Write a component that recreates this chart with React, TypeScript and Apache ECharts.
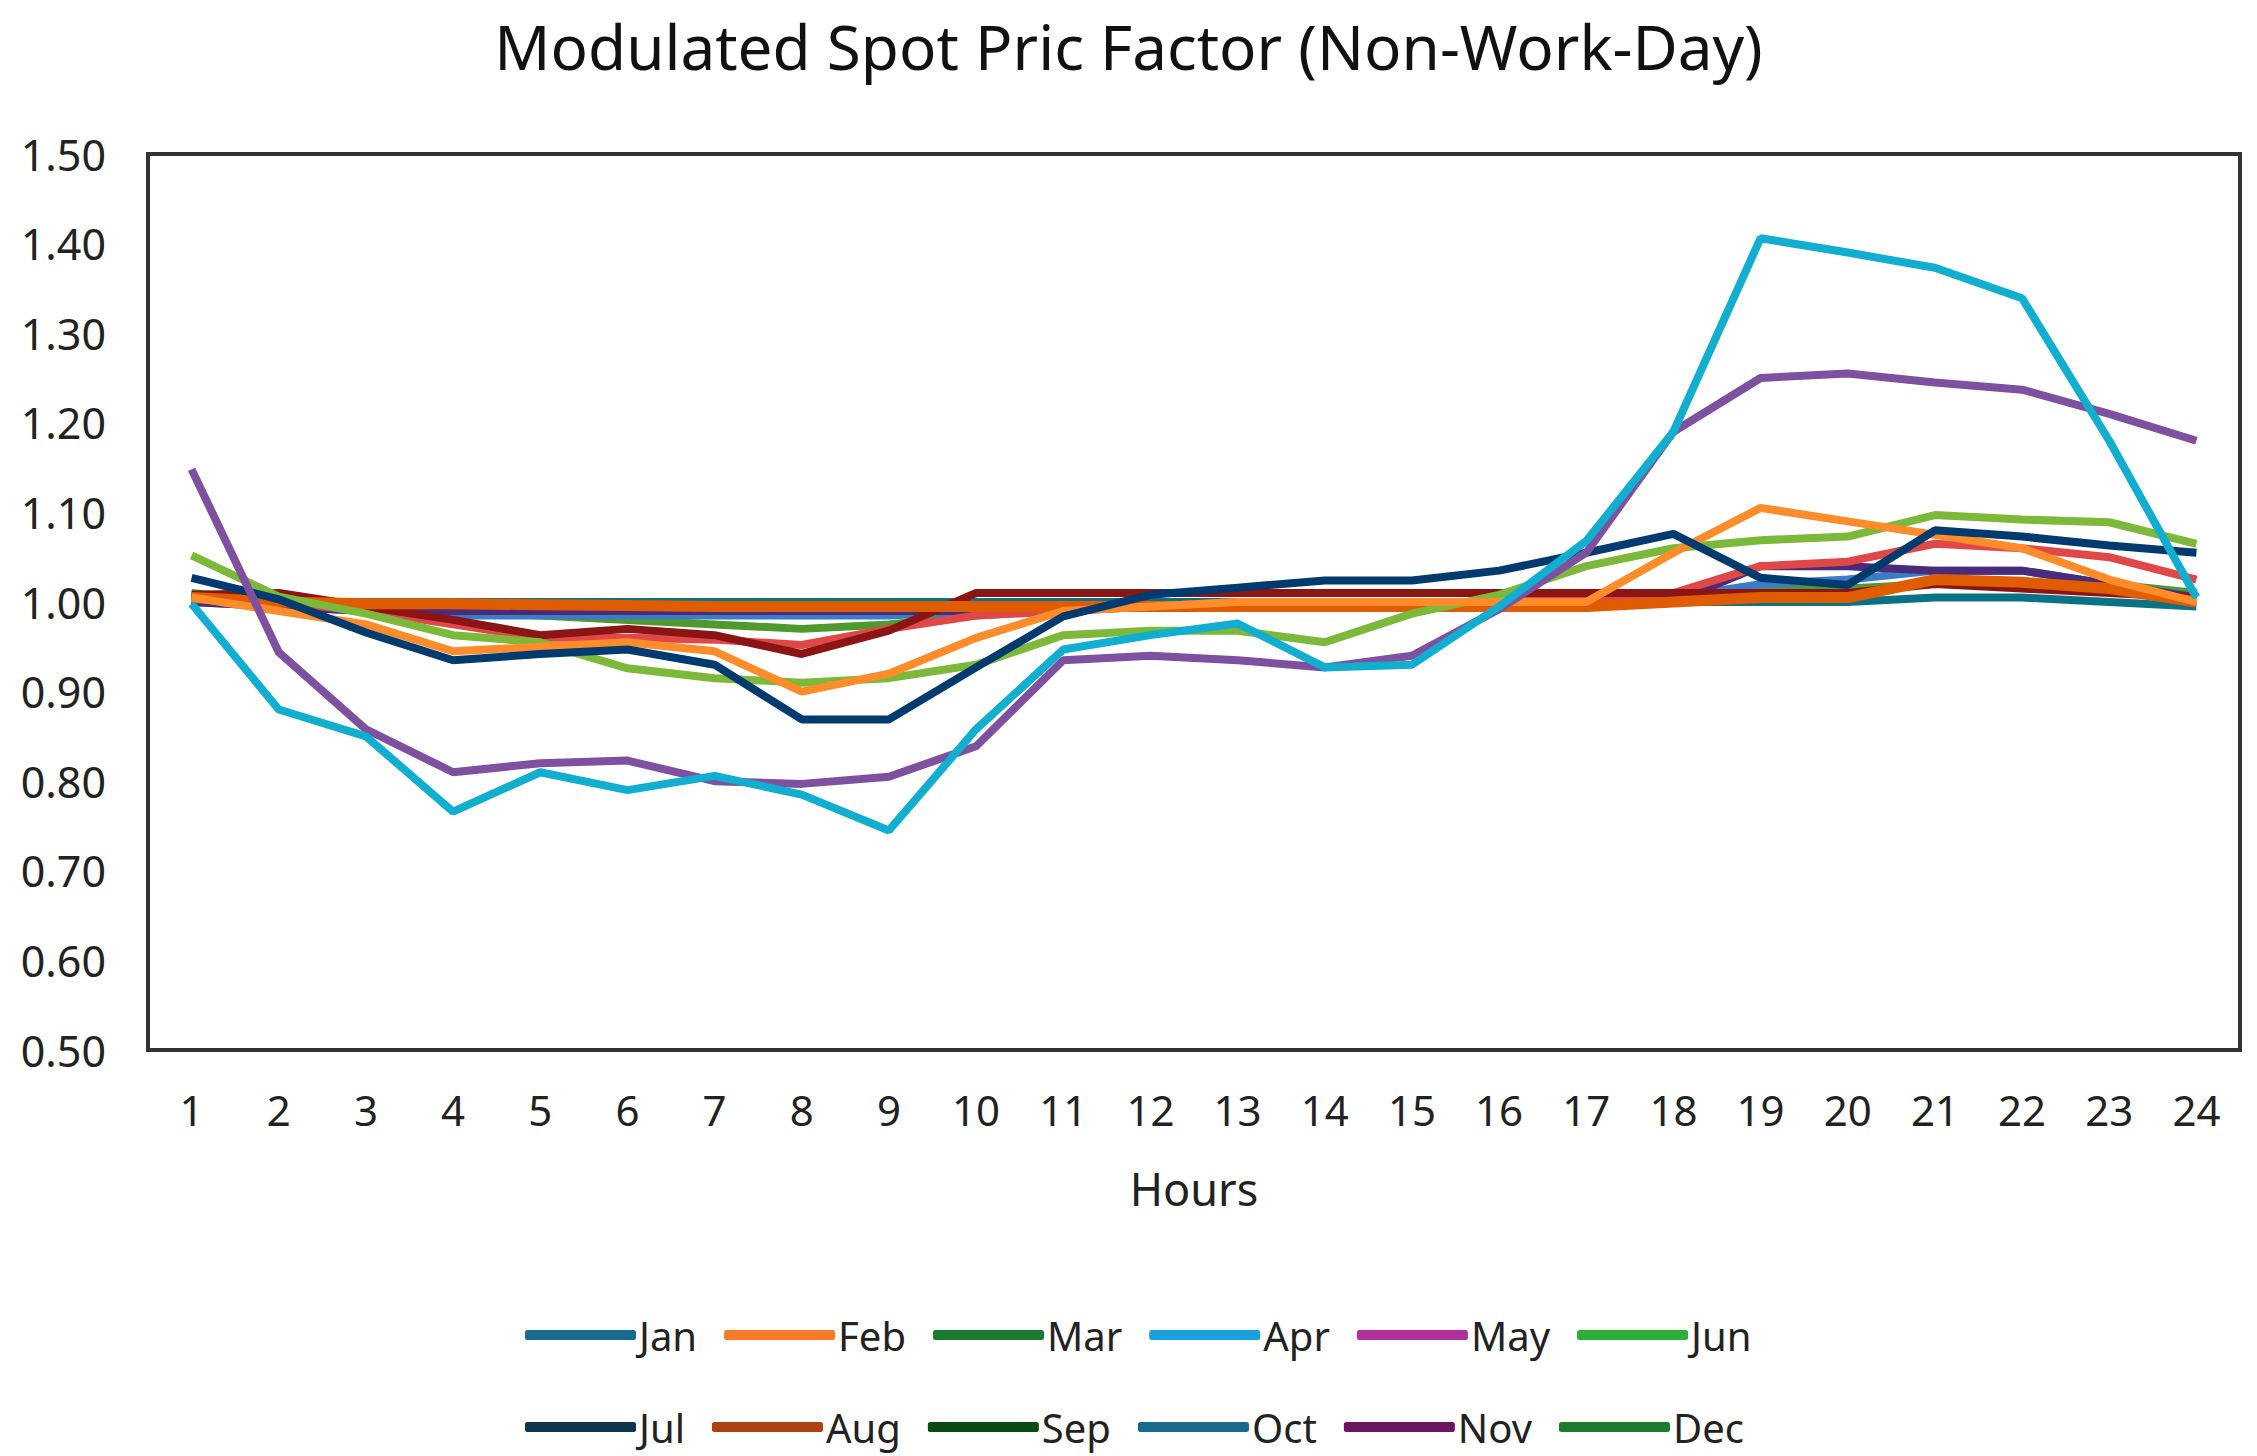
import React, { useEffect, useRef } from "react";
import * as echarts from "echarts";

const hours = ["1","2","3","4","5","6","7","8","9","10","11","12","13","14","15","16","17","18","19","20","21","22","23","24"];
const months = ["Jan","Feb","Mar","Apr","May","Jun","Jul","Aug","Sep","Oct","Nov","Dec"];

const jan = [1.0, 0.995, 0.99, 0.985, 0.985, 0.985, 0.985, 0.985, 0.985, 0.99, 0.995, 0.995, 1.0, 1.0, 1.0, 1.0, 1.0, 1.005, 1.02, 1.025, 1.035, 1.035, 1.02, 1.005];
const feb = [1.005, 0.99, 0.975, 0.945, 0.95, 0.955, 0.945, 0.9, 0.92, 0.96, 0.99, 0.995, 1.0, 1.0, 1.0, 1.0, 1.0, 1.055, 1.105, 1.09, 1.075, 1.06, 1.025, 1.0];
const mar = [1.01, 1.0, 0.995, 0.99, 0.985, 0.98, 0.975, 0.97, 0.975, 0.985, 0.99, 0.995, 0.998, 1.0, 1.0, 1.0, 1.0, 1.005, 1.015, 1.015, 1.02, 1.02, 1.02, 1.01];
const apr = [0.998, 0.88, 0.85, 0.766, 0.81, 0.79, 0.806, 0.785, 0.745, 0.858, 0.947, 0.963, 0.976, 0.927, 0.93, 0.995, 1.068, 1.19, 1.406, 1.39, 1.373, 1.339, 1.18, 1.005];
const may = [1.148, 0.944, 0.858, 0.81, 0.82, 0.823, 0.8, 0.797, 0.805, 0.839, 0.935, 0.94, 0.935, 0.927, 0.94, 0.992, 1.055, 1.19, 1.25, 1.255, 1.245, 1.237, 1.21, 1.18];
const jun = [1.052, 1.006, 0.987, 0.963, 0.955, 0.926, 0.915, 0.91, 0.915, 0.93, 0.963, 0.968, 0.968, 0.955, 0.987, 1.008, 1.04, 1.06, 1.069, 1.073, 1.097, 1.092, 1.089, 1.065];
const jul = [1.027, 1.003, 0.966, 0.935, 0.942, 0.947, 0.93, 0.869, 0.869, 0.927, 0.984, 1.008, 1.016, 1.024, 1.024, 1.035, 1.055, 1.076, 1.027, 1.019, 1.08, 1.073, 1.063, 1.055];
const aug = [1.005, 1.0, 0.998, 0.998, 0.997, 0.996, 0.995, 0.995, 0.995, 0.995, 0.995, 0.995, 0.995, 0.995, 0.995, 0.995, 0.995, 1.0, 1.005, 1.005, 1.025, 1.022, 1.015, 1.0];
const sep = [1.008, 1.01, 0.995, 0.98, 0.963, 0.97, 0.963, 0.942, 0.968, 1.01, 1.01, 1.01, 1.01, 1.01, 1.01, 1.01, 1.01, 1.01, 1.01, 1.01, 1.02, 1.015, 1.01, 1.005];
const oct = [1.0, 1.0, 1.0, 1.0, 1.0, 1.0, 1.0, 1.0, 1.0, 1.0, 1.0, 1.0, 1.0, 1.0, 1.0, 1.0, 1.0, 1.0, 1.0, 1.0, 1.005, 1.005, 1.0, 0.995];
const nov = [1.0, 0.995, 0.99, 0.99, 0.99, 0.99, 0.99, 0.99, 0.99, 0.99, 0.993, 0.995, 0.995, 0.995, 0.995, 0.995, 0.995, 1.0, 1.04, 1.04, 1.035, 1.035, 1.02, 1.005];
const dec = [1.005, 1.0, 0.99, 0.975, 0.96, 0.96, 0.958, 0.952, 0.97, 0.985, 0.99, 0.995, 1.0, 1.0, 1.0, 1.0, 1.005, 1.01, 1.04, 1.045, 1.065, 1.06, 1.05, 1.025];

const seriesValues = [jan, feb, mar, apr, may, jun, jul, aug, sep, oct, nov, dec];
const lineColors = ["#3B7DC4", "#FF8C2A", "#4E9A2F", "#12AECF", "#7E50A0", "#7CB83A", "#003A6E", "#E05C00", "#8B1515", "#0B7285", "#4A2A7A", "#E04848"];
const legendColors = ["#1B6A8F", "#F97A2B", "#1A7A30", "#1AA0DC", "#B0309E", "#2FAF3A", "#0D3550", "#B04010", "#0A4A14", "#1A6A8C", "#6A1660", "#1E7A2E"];
const drawOrder = [9, 2, 0, 10, 11, 8, 7, 5, 1, 6, 4, 3];

export default function App() {
  const ref = useRef<HTMLDivElement>(null);
  useEffect(() => {
    document.body.style.margin = "0";
    const chart = echarts.init(ref.current!, null, { renderer: "svg" });
    const font = "Noto Sans";
    const legendItems = (idx: number[]) =>
      idx.map((i) => ({
        name: months[i],
        icon: "roundRect",
        itemStyle: { color: legendColors[i] },
        lineStyle: { color: legendColors[i] },
      }));
    const legendCommon = {
      left: 520,
      itemWidth: 111,
      itemHeight: 10,
      itemGap: 27,
      textStyle: { fontFamily: font, fontSize: 40, color: "#222", width: 70, padding: [0, 0, 0, -2] },
      selectedMode: false,
    };
    chart.setOption({
      animation: false,
      backgroundColor: "#fff",
      title: {
        text: "Modulated Spot Pric Factor (Non-Work-Day)",
        left: "center",
        top: 10,
        textStyle: { fontFamily: font, fontSize: 62, fontWeight: "normal", color: "#111" },
      },
      legend: [
        { ...legendCommon, top: 1310, data: legendItems([0, 1, 2, 3, 4, 5]) },
        { ...legendCommon, top: 1402, data: legendItems([6, 7, 8, 9, 10, 11]) },
      ],
      grid: {
        left: 148,
        right: 17,
        top: 154,
        bottom: 406,
        show: true,
        borderColor: "#333",
        borderWidth: 4,
        containLabel: false,
      },
      xAxis: {
        type: "category",
        data: hours,
        boundaryGap: true,
        name: "Hours",
        nameLocation: "middle",
        nameGap: 116,
        nameTextStyle: { fontFamily: font, fontSize: 45, color: "#222" },
        axisLine: { show: true, lineStyle: { color: "#333", width: 4 } },
        axisTick: { show: false },
        axisLabel: { fontFamily: font, fontSize: 42, color: "#222", margin: 38 },
        splitLine: { show: false },
      },
      yAxis: {
        type: "value",
        min: 0.5,
        max: 1.5,
        interval: 0.1,
        axisLine: { show: true, lineStyle: { color: "#333", width: 4 } },
        axisTick: { show: false },
        splitLine: { show: false },
        axisLabel: {
          fontFamily: font,
          fontSize: 43,
          color: "#222",
          margin: 42,
          formatter: (v: number) => v.toFixed(2),
        },
      },
      series: drawOrder.map((i) => ({
        name: months[i],
        type: "line",
        data: seriesValues[i],
        symbol: "none",
        lineStyle: { color: lineColors[i], width: i === 7 ? 11 : 8 },
        itemStyle: { color: lineColors[i] },
      })),
    });
    return () => chart.dispose();
  }, []);
  return <div ref={ref} style={{ width: 2257, height: 1456 }} />;
}
